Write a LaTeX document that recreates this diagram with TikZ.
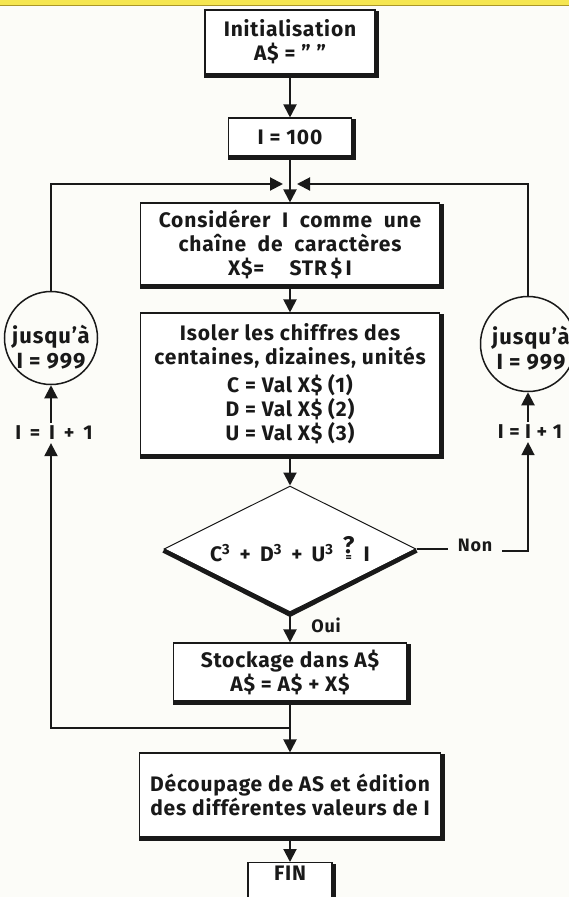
\documentclass[tikz,border=0pt]{standalone}
\usepackage{fontspec}
\setmainfont{Fira Sans}[LetterSpace=4]
\usetikzlibrary{arrows.meta,shapes.geometric}
\definecolor{band}{RGB}{245,230,80}
\definecolor{bandline}{RGB}{170,150,40}
\definecolor{paper}{RGB}{252,252,248}
\definecolor{ink}{RGB}{25,25,25}
\newcommand\qeq{\leavevmode\vbox{\offinterlineskip\halign{\hfil##\hfil\cr {\fontsize{24}{24}\selectfont ?}\cr\noalign{\kern2pt}{\fontsize{12}{12}\selectfont =}\cr}}}
\newcommand\boxshadow[1]{\draw[shad] ([xshift=1.8pt,yshift=-2pt]#1.north east) -- ([xshift=1.8pt,yshift=-1.8pt]#1.south east) -- ([yshift=-1.8pt]#1.south west);}
\begin{document}
\begin{tikzpicture}[x=1pt,y=-1pt,line join=miter,
  box/.style={draw=ink, fill=white, line width=1.1pt, align=center, inner sep=0pt,
    font=\fontsize{21}{24}\selectfont\bfseries, text=ink},
  shad/.style={draw=ink, line width=4pt},
  arr/.style={draw=ink, line width=2pt, -{Triangle[length=13pt,width=13pt]}},
  link/.style={draw=ink, line width=2pt},
  circ/.style={circle, draw=ink, line width=1.5pt, inner sep=0pt},
  circtext/.style={align=center, inner sep=0pt, font=\fontsize{22}{25}\selectfont\bfseries, text=ink},
  lbl/.style={font=\fontsize{20}{22}\selectfont\bfseries, text=ink, inner sep=3pt},
  small/.style={font=\fontsize{18}{20}\selectfont\bfseries, text=ink, inner sep=3pt},
  dia/.style={diamond, draw=ink, fill=white, line width=1pt, aspect=2, inner sep=0pt,
    minimum width=252pt, minimum height=126pt, font=\fontsize{21}{24}\selectfont\bfseries, text=ink}]
\useasboundingbox (0,0) rectangle (569,897);
\clip (0,0) rectangle (569,897);
\fill[paper] (0,0) rectangle (569,897);
\fill[band] (0,0) rectangle (569,5.5);
\draw[bandline, line width=0.8pt] (0,5.5) -- (569,5.5);

% boxes
\node[box, minimum width=170pt, minimum height=64pt] (init) at (290,42) {Initialisation\\A\$ = ” ”};
\boxshadow{init}
\node[box, minimum width=123pt, minimum height=38pt] (i100) at (290,137) {I = 100};
\boxshadow{i100}
\node[box, minimum width=299pt, minimum height=82pt] (cons) at (290,244)
  {Considérer~ I~ comme~ une\\chaîne~ de~ caractères\\X\$=\hspace{1.2em}STR\,\$\,I};
\boxshadow{cons}
\node[box, minimum width=299pt, minimum height=142pt] (isol) at (290,384)
  {Isoler les chiffres des\\centaines, dizaines, unités\\[4pt]C = Val X\$ (1)\\D = Val X\$ (2)\\U = Val X\$ (3)};
\boxshadow{isol}
\node[dia] (dia) at (290,549) {C\textsuperscript{3}\, +\, D\textsuperscript{3}\, +\, U\textsuperscript{3}\, \qeq\, I};
\draw[shad, line width=4.5pt] ([yshift=-1.5pt]dia.west) -- ([yshift=-2pt]dia.south) -- ([yshift=-1.5pt]dia.east);
\node[box, minimum width=233pt, minimum height=58pt] (stock) at (290,672) {Stockage dans A\$\\A\$ = A\$ + X\$};
\boxshadow{stock}
\node[box, minimum width=301pt, minimum height=84pt] (decoup) at (290,795)
  {Découpage de AS et édition\\des différentes valeurs de I};
\boxshadow{decoup}
\node[box, anchor=north, minimum width=84pt, text height=18pt, text depth=36pt, inner ysep=0pt] (fin) at (290,862) {FIN};
\boxshadow{fin}

% loop circles
\node[circ, minimum size=93pt] (lc) at (51,338) {};
\node[circtext] (lct) at (51,347) {jusqu’à\\I = 999};
\node[circ, minimum size=95pt] (rc) at (528,344) {};
\node[circtext] (rct) at (531,348) {jusqu’à\\I = 999};
\node[lbl] (linc) at (54,433) {I\, =\, I\, +\, 1};
\node[lbl] (rinc) at (530,432) {I = I + 1};
\node[small, inner xsep=10pt] (non) at (475,545) {Non};
\node[small] (oui) at (326,625) {Oui};

% junctions
\coordinate (jtop) at (290,184);
\coordinate (jbot) at (290,728);

% connectors
\draw[arr] (init.south) -- (i100.north);
\draw[arr] (i100.south) -- (cons.north);
\draw[arr] (lc.north) |- ([xshift=-7pt]jtop);
\draw[arr] (rc.north) |- ([xshift=7pt]jtop);
\draw[arr] (cons.south) -- (isol.north);
\draw[arr] (isol.south) -- (dia.north);
\draw[arr] (dia.south) -- (stock.north);
\draw[arr] (stock.south) -- (decoup.north);
\draw[arr] (decoup.south) -- (fin.north);
\draw[arr] (jbot) -| (lc.south |- linc.south);
\draw[arr] (lc.south |- linc.north) -- (lc.south);
\draw[link, line width=1.6pt] (dia.east) -- (dia.east -| non.west);
\draw[arr, line width=1.6pt] ([yshift=-2pt]dia.east -| non.east) -| (rc.south |- rinc.south);
\draw[arr] (rc.south |- rinc.north) -- (rc.south);
\end{tikzpicture}
\end{document}
